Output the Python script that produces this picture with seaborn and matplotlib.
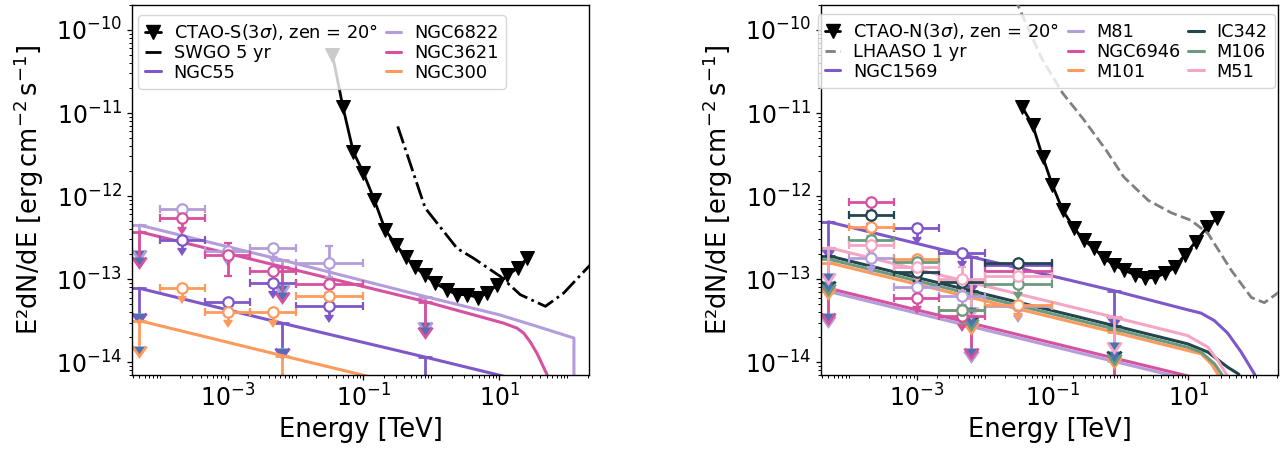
import numpy as np
import pandas as pd
import matplotlib
matplotlib.use("Agg")
import matplotlib.pyplot as plt
import seaborn as sns
from matplotlib.lines import Line2D
from matplotlib.ticker import FixedLocator, LogLocator, NullFormatter

# ==========================================
# data
# ==========================================
# CTAO 3 sigma sensitivity curves [TeV], [erg cm^-2 s^-1]
ctao_s_energy = [0.035, 0.050, 0.071, 0.10, 0.145, 0.21, 0.30, 0.42, 0.58, 0.81,
                 1.15, 1.70, 2.40, 3.40, 4.80, 6.60, 9.30, 13.2, 18.6, 25.7]
ctao_s_flux = [5.0e-11, 1.17e-11, 3.4e-12, 1.9e-12, 8.9e-13, 3.9e-13, 2.6e-13, 1.86e-13,
               1.38e-13, 1.12e-13, 8.9e-14, 7.4e-14, 6.5e-14, 6.5e-14, 6.0e-14, 6.8e-14,
               8.5e-14, 1.12e-13, 1.35e-13, 1.78e-13]
ctao_n_energy = [0.036, 0.051, 0.072, 0.10, 0.141, 0.21, 0.29, 0.41, 0.58, 0.81,
                 1.12, 1.66, 2.29, 3.24, 4.57, 6.31, 8.91, 12.9, 19.1, 26.3]
ctao_n_flux = [1.17e-11, 7.2e-12, 2.95e-12, 1.35e-12, 6.8e-13, 4.07e-13, 2.95e-13, 2.34e-13,
               1.78e-13, 1.48e-13, 1.29e-13, 1.12e-13, 1.02e-13, 1.05e-13, 1.17e-13, 1.38e-13,
               1.95e-13, 2.82e-13, 4.27e-13, 5.4e-13]

# wide-field observatories
swgo_energy = [0.32, 0.81, 2.4, 4.2, 10.5, 20.4, 47.9, 89.1, 186, 250]
swgo_flux = [6.9e-12, 7.2e-13, 2.34e-13, 1.78e-13, 1.07e-13, 6.5e-14, 4.7e-14, 6.8e-14,
             1.29e-13, 1.66e-13]
lhaaso_energy = [0.028, 0.068, 0.141, 0.29, 0.62, 1.12, 2.57, 5.6, 11.0, 19.5, 42.7, 85.1,
                 132, 224]
lhaaso_flux = [2.4e-10, 4.7e-11, 1.74e-11, 8.3e-12, 3.55e-12, 1.70e-12, 8.9e-13, 6.3e-13,
               5.1e-13, 3.55e-13, 1.29e-13, 6.0e-14, 5.2e-14, 7.1e-14]

# Fermi-LAT energy bins [TeV]
bin_centre = [2.15e-4, 1.0e-3, 4.64e-3, 3.16e-2]
bin_low = [1.0e-4, 4.64e-4, 2.15e-3, 1.0e-2]
bin_high = [4.64e-4, 2.15e-3, 1.0e-2, 1.0e-1]

# galaxies (left: southern, right: northern)
south_names = ["NGC55", "NGC6822", "NGC3621", "NGC300"]
north_names = ["NGC1569", "M81", "NGC6946", "M101", "IC342", "M106", "M51"]
colours = {"NGC55": "#7e57c8", "NGC6822": "#b39ddb", "NGC3621": "#d6519f",
           "NGC300": "#fd9a5c", "NGC1569": "#7e57c8", "M81": "#b39ddb",
           "NGC6946": "#d6519f", "M101": "#fd9a5c", "IC342": "#22454f",
           "M106": "#6b9a7f", "M51": "#f4a6c4"}

# LAT flux points (nan = no point), and which are upper limits
lat_flux = {
    "NGC55": [2.95e-13, 5.37e-14, 8.9e-14, 4.68e-14],
    "NGC6822": [6.9e-13, 2.19e-13, 2.34e-13, 1.55e-13],
    "NGC3621": [5.37e-13, 1.95e-13, 1.26e-13, 8.7e-14],
    "NGC300": [7.9e-14, 4.07e-14, 3.98e-14, 6.3e-14],
    "NGC1569": [np.nan, 4.07e-13, 2.09e-13, 1.48e-13],
    "M81": [1.82e-13, 8.1e-14, 6.3e-14, 4.68e-14],
    "NGC6946": [8.5e-13, 5.9e-14, 3.55e-14, 1.26e-13],
    "M101": [4.27e-13, 1.74e-13, 4.3e-14, 4.9e-14],
    "IC342": [5.9e-13, 1.23e-13, 9.3e-14, 1.58e-13],
    "M106": [2.95e-13, 1.62e-13, 4.27e-14, 8.7e-14],
    "M51": [2.57e-13, 1.41e-13, 1.0e-13, 1.10e-13],
}
lat_is_ul = {
    "NGC55": [1, 1, 1, 1], "NGC6822": [1, 1, 1, 0], "NGC3621": [1, 0, 1, 1],
    "NGC300": [1, 1, 1, 1], "NGC1569": [1, 1, 1, 1], "M81": [1, 1, 1, 1],
    "NGC6946": [1, 1, 1, 1], "M101": [1, 1, 1, 1], "IC342": [1, 1, 1, 1],
    "M106": [1, 1, 1, 1], "M51": [1, 1, 0, 1],
}
# 1 sigma range for the detected bins
lat_err_low = {"NGC6822": [np.nan, np.nan, np.nan, 1.07e-13],
               "NGC3621": [np.nan, 1.10e-13, np.nan, np.nan],
               "M51": [np.nan, np.nan, 7.1e-14, np.nan]}
lat_err_high = {"NGC6822": [np.nan, np.nan, np.nan, 2.51e-13],
                "NGC3621": [np.nan, 2.69e-13, np.nan, np.nan],
                "M51": [np.nan, np.nan, 1.41e-13, np.nan]}

# model spectra; the first three points carry the upper-limit arrows
model_energy = {
    "NGC55": [5.0e-5, 6.3e-3, 0.81, 30.0],
    "NGC6822": [5.0e-5, 6.3e-3, 0.81, 10.0, 36.3, 126, 126],
    "NGC3621": [5.0e-5, 6.3e-3, 0.81, 11.6, 18.2, 22.9, 28.8, 36.3, 42.7, 50.1, 70.8],
    "NGC300": [5.0e-5, 6.3e-3, 0.81],
    "NGC1569": [5.0e-5, 6.3e-3, 0.81, 9.8, 15.5, 24.3, 38.0, 60.3, 94.4, 141],
    "M81": [5.0e-5, 6.3e-3, 0.81, 10.0],
    "NGC6946": [5.0e-5, 6.3e-3, 0.81, 10.0],
    "M101": [5.0e-5, 6.3e-3, 0.81, 9.8, 15.5, 21.9, 27.2, 39.8],
    "IC342": [5.0e-5, 6.3e-3, 0.81, 9.8, 19.5, 38.0, 55.0, 79.4],
    "M106": [5.0e-5, 6.3e-3, 0.81, 9.8, 15.5, 24.5, 30.9, 44.7],
    "M51": [5.0e-5, 6.3e-3, 0.81, 9.8, 19.5, 27.2, 36.3, 50.1],
}
model_flux = {
    "NGC55": [7.76e-14, 2.95e-14, 1.15e-14, 5.6e-15],
    "NGC6822": [4.47e-13, 1.70e-13, 6.17e-14, 3.72e-14, 2.69e-14, 1.95e-14, 1e-16],
    "NGC3621": [3.72e-13, 1.41e-13, 5.37e-14, 2.95e-14, 2.57e-14, 2.24e-14, 1.74e-14,
                1.26e-14, 9.5e-15, 7.2e-15, 2.5e-15],
    "NGC300": [3.16e-14, 1.20e-14, 4.6e-15],
    "NGC1569": [4.9e-13, 1.86e-13, 7.24e-14, 4.27e-14, 3.89e-14, 3.16e-14, 2.24e-14,
                1.32e-14, 7.2e-15, 3.5e-15],
    "M81": [7.1e-14, 2.69e-14, 1.02e-14, 6.2e-15],
    "NGC6946": [7.76e-14, 2.95e-14, 1.12e-14, 6.8e-15],
    "M101": [1.58e-13, 6.0e-14, 2.29e-14, 1.38e-14, 1.26e-14, 9.5e-15, 7.2e-15, 4e-15],
    "IC342": [1.91e-13, 7.24e-14, 2.75e-14, 1.66e-14, 1.32e-14, 8.7e-15, 7.2e-15, 4e-15],
    "M106": [1.74e-13, 6.6e-14, 2.51e-14, 1.51e-14, 1.32e-14, 9.5e-15, 7.2e-15, 4e-15],
    "M51": [2.40e-13, 9.1e-14, 3.47e-14, 2.09e-14, 1.51e-14, 1.05e-14, 7.2e-15, 4e-15],
}

# ==========================================
# style
# ==========================================
sns.set_theme(style="ticks", rc={
    "axes.edgecolor": "black", "axes.linewidth": 1.0,
    "xtick.color": "black", "ytick.color": "black", "text.color": "black",
    "axes.labelcolor": "black",
    "xtick.major.size": 3.5, "ytick.major.size": 3.5,
    "xtick.minor.size": 2.0, "ytick.minor.size": 2.0,
    "xtick.major.width": 0.9, "ytick.major.width": 0.9,
    "xtick.minor.width": 0.7, "ytick.minor.width": 0.7,
})
plt.rcParams["font.family"] = ["DejaVu Sans"]
plt.rcParams["mathtext.fontset"] = "dejavusans"

LEGEND_KW = dict(fontsize=12.8, handlelength=0.87, labelspacing=0.1, columnspacing=0.45,
                 handletextpad=0.73, borderaxespad=0.0, borderpad=0.4, numpoints=1)


def draw_galaxy(ax, name):
    c = colours[name]
    e_mod = np.array(model_energy[name])
    f_mod = np.array(model_flux[name])
    sns.lineplot(x=e_mod, y=f_mod, ax=ax, color=c, lw=2.2, estimator=None, sort=False,
                 zorder=2)
    # model upper-limit arrows
    ax.errorbar(e_mod[:3], f_mod[:3], yerr=0.5 * f_mod[:3], uplims=True, fmt="none",
                ecolor=c, elinewidth=2.0, capsize=5, capthick=2.0, zorder=2)

    # LAT points
    e = np.array(bin_centre)
    f = np.array(lat_flux[name])
    ul = np.array(lat_is_ul[name], dtype=bool)
    xerr = np.vstack([e - np.array(bin_low), np.array(bin_high) - e])
    ok = ul & ~np.isnan(f)
    ax.errorbar(e[ok], f[ok], xerr=xerr[:, ok], yerr=0.2 * f[ok], uplims=True, fmt="o",
                ms=7.5, mfc="white", mec=c, mew=1.6, color=c, elinewidth=2.0,
                capsize=2.8, capthick=1.6, zorder=4)
    det = ~ul & ~np.isnan(f)
    if det.any():
        lo = np.array(lat_err_low[name])
        hi = np.array(lat_err_high[name])
        yerr = np.vstack([f - lo, hi - f])
        ax.errorbar(e[det], f[det], xerr=xerr[:, det], yerr=yerr[:, det], fmt="o",
                    ms=7.5, mfc="white", mec=c, mew=1.6, color=c, elinewidth=2.0,
                    capsize=2.8, capthick=1.6, zorder=4)
    return Line2D([], [], color=c, lw=2.2, label=name)


def style_axes(ax):
    ax.set_xscale("log")
    ax.set_yscale("log")
    ax.set_xlim(3.9e-5, 2.1e2)
    ax.set_ylim(7e-15, 2e-10)
    ax.xaxis.set_major_locator(FixedLocator([1e-3, 1e-1, 1e1]))
    ax.xaxis.set_minor_locator(LogLocator(base=10, subs=np.arange(1, 10), numticks=100))
    ax.xaxis.set_minor_formatter(NullFormatter())
    ax.yaxis.set_major_locator(FixedLocator([1e-14, 1e-13, 1e-12, 1e-11, 1e-10]))
    ax.yaxis.set_minor_locator(LogLocator(base=10, subs=np.arange(2, 10), numticks=100))
    ax.yaxis.set_minor_formatter(NullFormatter())
    ax.tick_params(labelsize=17)
    ax.set_xlabel("Energy [TeV]", fontsize=18.5, labelpad=4)
    ax.set_ylabel(r"E²dN/dE [$\mathrm{erg\,cm^{-2}\,s^{-1}}$]", fontsize=18.5, labelpad=7)
    for s in ax.spines.values():
        s.set_visible(True)


fig = plt.figure(figsize=(12.88, 4.53), dpi=100)
ax1 = fig.add_axes([132 / 1288, 78 / 453, 457 / 1288, 370 / 453])
ax2 = fig.add_axes([821 / 1288, 78 / 453, 457 / 1288, 370 / 453])
for ax in (ax1, ax2):
    style_axes(ax)

# ---- left panel: southern sky ----
h_ctao = Line2D([], [], color="black", lw=2, marker="v", ms=10,
                label=r"CTAO-S(3$\sigma$), zen = 20°")
sns.lineplot(x=ctao_s_energy, y=ctao_s_flux, ax=ax1, color="black", lw=2, marker="v",
             ms=10, mec="black", estimator=None, sort=False, zorder=3)
sns.lineplot(x=swgo_energy, y=swgo_flux, ax=ax1, color="black", lw=2,
             linestyle="-.", estimator=None, sort=False, zorder=3)
h_swgo = Line2D([], [], color="black", lw=2, linestyle="-.", label="SWGO 5 yr")
handles = [h_ctao, h_swgo] + [draw_galaxy(ax1, n) for n in south_names]
ax1.legend(handles=handles, ncol=2, loc="upper left",
           bbox_to_anchor=(0.0131, 0.973), **LEGEND_KW)

# ---- right panel: northern sky ----
h_ctao_n = Line2D([], [], color="black", lw=2, marker="v", ms=10,
                  label=r"CTAO-N(3$\sigma$), zen = 20°")
sns.lineplot(x=ctao_n_energy, y=ctao_n_flux, ax=ax2, color="black", lw=2, marker="v",
             ms=10, mec="black", estimator=None, sort=False, zorder=3)
sns.lineplot(x=lhaaso_energy, y=lhaaso_flux, ax=ax2, color="grey", lw=2,
             linestyle="--", estimator=None, sort=False, zorder=3)
h_lhaaso = Line2D([], [], color="grey", lw=2, linestyle="--", label="LHAASO 1 yr")
handles = [h_ctao_n, h_lhaaso] + [draw_galaxy(ax2, n) for n in north_names]
ax2.legend(handles=handles, ncol=3, loc="upper right",
           bbox_to_anchor=(0.9934, 0.9757), **LEGEND_KW)

for ax in (ax1, ax2):
    ax.set_xlim(3.9e-5, 2.1e2)
    ax.set_ylim(7e-15, 2e-10)

fig.savefig("out.png", dpi=100)
